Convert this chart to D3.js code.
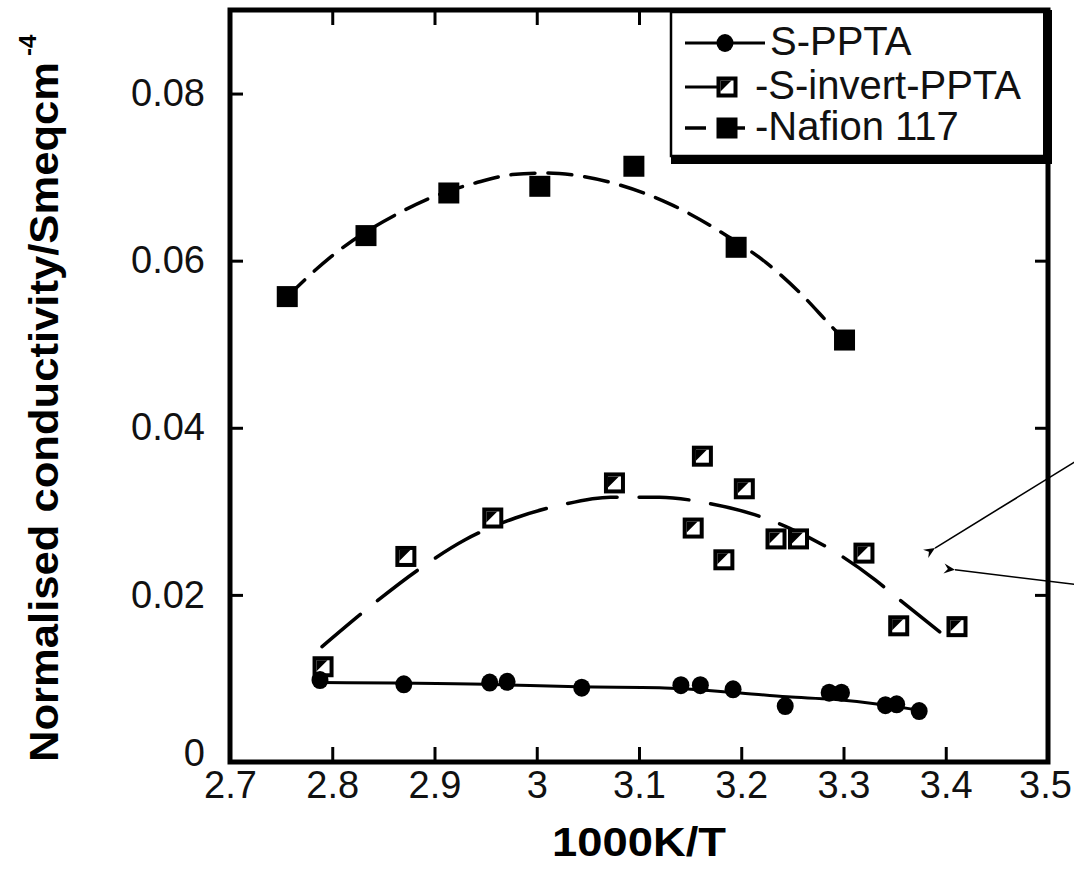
<!DOCTYPE html>
<html>
<head>
<meta charset="utf-8">
<script src="https://cdn.jsdelivr.net/npm/d3@7"></script>
<style>
body { margin: 0; background: #fff; }
svg { display: block; font-family: Arial, "Liberation Sans", Helvetica, sans-serif; }
</style>
</head>
<body>
<script>
// ---- values ----
var xTicks = [2.7, 2.8, 2.9, 3.0, 3.1, 3.2, 3.3, 3.4, 3.5];
var xTickLabels = ["2.7", "2.8", "2.9", "3", "3.1", "3.2", "3.3", "3.4", "3.5"];
var yTicks = [0, 0.02, 0.04, 0.06, 0.08];
var yTickLabels = ["0", "0.02", "0.04", "0.06", "0.08"];

var seriesNames = ["S-PPTA", "-S-invert-PPTA", "-Nafion 117"];

// S-PPTA (filled circles)
var sPptaX = [2.788, 2.870, 2.954, 2.971, 3.044, 3.141, 3.160, 3.192, 3.243, 3.286, 3.298, 3.341, 3.352, 3.374];
var sPptaY = [0.0098, 0.0093, 0.0095, 0.0096, 0.0089, 0.0092, 0.0092, 0.0087, 0.0067, 0.0083, 0.0083, 0.0068, 0.0069, 0.0061];
// fitted line through S-PPTA
var sPptaFitX = [2.788, 2.950, 3.040, 3.120, 3.195, 3.245, 3.290, 3.342, 3.374];
var sPptaFitY = [0.0095, 0.0093, 0.0090, 0.0089, 0.0083, 0.0078, 0.0075, 0.0068, 0.0062];

// S-invert-PPTA (open squares)
var sInvX = [2.791, 2.872, 2.957, 3.076, 3.153, 3.162, 3.183, 3.203, 3.234, 3.256, 3.320, 3.354, 3.411];
var sInvY = [0.0114, 0.0246, 0.0292, 0.0334, 0.0280, 0.0366, 0.0242, 0.0327, 0.0267, 0.0267, 0.0250, 0.0163, 0.0162];
var sInvFitX = [2.790, 2.839, 2.884, 2.930, 2.979, 3.025, 3.072, 3.120, 3.166, 3.213, 3.247, 3.284, 3.331, 3.353, 3.401];
var sInvFitY = [0.0138, 0.0188, 0.0230, 0.0266, 0.0292, 0.0308, 0.0317, 0.0317, 0.0310, 0.0296, 0.0280, 0.0257, 0.0218, 0.0196, 0.0149];

// Nafion 117 (filled squares)
var nafX = [2.756, 2.833, 2.914, 3.003, 3.095, 3.195, 3.301];
var nafY = [0.0557, 0.0630, 0.0681, 0.0689, 0.0713, 0.0616, 0.0505];
var nafFitX = [2.756, 2.798, 2.870, 2.900, 2.940, 2.976, 3.010, 3.044, 3.080, 3.130, 3.187, 3.224, 3.257, 3.287, 3.301];
var nafFitY = [0.0557, 0.0604, 0.0660, 0.0677, 0.0693, 0.0703, 0.0705, 0.0701, 0.0691, 0.0668, 0.0629, 0.0598, 0.0562, 0.0523, 0.0505];

// two annotation arrows coming in from the right (tip first)
var arrowTipX = [3.3895, 3.409];
var arrowTipY = [0.0256, 0.0230];
var arrowTailX = [3.530, 3.530];
var arrowTailY = [0.0362, 0.0212];

// ---- drawing ----
var width = 1074,
    height = 885;

var x = d3.scaleLinear().domain([2.7, 3.5]).range([230, 1048]);
var y = d3.scaleLinear().domain([0, 0.09]).range([762, 10]);

var svg = d3.select("body")
    .append("svg")
    .attr("width", width)
    .attr("height", height);

var zip = function(xs, ys){ return xs.map(function(v, i){ return [v, ys[i]]; }); };

var fitLine = d3.line()
    .x(function(d){ return x(d[0]); })
    .y(function(d){ return y(d[1]); })
    .curve(d3.curveMonotoneX);

// axes (ticks inward)
var xAxis = svg.append("g")
    .attr("transform", "translate(0," + y(0) + ")")
    .call(d3.axisBottom(x).tickValues(xTicks).tickSize(-15).tickPadding(9)
        .tickFormat(function(d, i){ return xTickLabels[i]; }));

var yAxis = svg.append("g")
    .attr("transform", "translate(" + x(2.7) + ",0)")
    .call(d3.axisLeft(y).tickValues(yTicks).tickSize(-13).tickPadding(25)
        .tickFormat(function(d, i){ return yTickLabels[i]; }));

// mirror ticks on top and right
svg.append("g")
    .attr("transform", "translate(0," + y(0.09) + ")")
    .call(d3.axisTop(x).tickValues(xTicks).tickSize(-15).tickFormat(""));
svg.append("g")
    .attr("transform", "translate(" + x(3.5) + ",0)")
    .call(d3.axisRight(y).tickValues(yTicks).tickSize(-13).tickFormat(""));

svg.selectAll(".domain").remove();
svg.selectAll(".tick line").attr("stroke", "#000").attr("stroke-width", 3);
svg.selectAll(".tick text").attr("fill", "#111").attr("font-size", 38);
// the "0" sits a bit higher so it clears 2.7
yAxis.selectAll(".tick text").filter(function(d){ return d === 0; }).attr("dy", "0.1em");
// last x label is pulled in so it stays on the page
xAxis.selectAll(".tick text").filter(function(d){ return d === 3.5; }).attr("dx", -3);

// frame
svg.append("rect")
    .attr("x", x(2.7)).attr("y", y(0.09))
    .attr("width", x(3.5) - x(2.7)).attr("height", y(0) - y(0.09))
    .attr("fill", "none").attr("stroke", "#000").attr("stroke-width", 5);

// fitted curves
svg.append("path")
    .attr("d", fitLine(zip(nafFitX, nafFitY)))
    .attr("fill", "none").attr("stroke", "#000").attr("stroke-width", 3.5)
    .attr("stroke-dasharray", "24,13").attr("stroke-linecap", "round");

svg.append("path")
    .attr("d", fitLine(zip(sInvFitX, sInvFitY)))
    .attr("fill", "none").attr("stroke", "#000").attr("stroke-width", 3.5)
    .attr("stroke-dasharray", "50,22").attr("stroke-linecap", "round");

svg.append("path")
    .attr("d", fitLine(zip(sPptaFitX, sPptaFitY)))
    .attr("fill", "none").attr("stroke", "#000").attr("stroke-width", 3);

// markers
function filledSquare(g, cx, cy){
    g.append("rect").attr("x", cx - 10.5).attr("y", cy - 10.5)
        .attr("width", 21).attr("height", 21).attr("fill", "#000");
}
function openSquare(g, cx, cy){
    g.append("rect").attr("x", cx - 8.5).attr("y", cy - 8.5)
        .attr("width", 17).attr("height", 17)
        .attr("fill", "#fff").attr("stroke", "#000").attr("stroke-width", 4);
    g.append("path")
        .attr("d", "M" + (cx - 6.5) + "," + (cy - 6.5) + "h11l-11,11z")
        .attr("fill", "#000");
}
function dot(g, cx, cy){
    g.append("ellipse").attr("cx", cx).attr("cy", cy)
        .attr("rx", 8.5).attr("ry", 9).attr("fill", "#000");
}

var marks = svg.append("g");
zip(nafX, nafY).forEach(function(d){ filledSquare(marks, x(d[0]), y(d[1])); });
zip(sInvX, sInvY).forEach(function(d){ openSquare(marks, x(d[0]), y(d[1])); });
zip(sPptaX, sPptaY).forEach(function(d){ dot(marks, x(d[0]), y(d[1])); });

// arrows
svg.append("defs").append("marker")
    .attr("id", "head")
    .attr("viewBox", "0 0 10 10")
    .attr("refX", 0).attr("refY", 5)
    .attr("markerWidth", 17).attr("markerHeight", 11)
    .attr("markerUnits", "userSpaceOnUse")
    .attr("orient", "auto-start-reverse")
    .append("path").attr("d", "M0,5L10,0.5L6.5,5L10,9.5z").attr("fill", "#000");

arrowTipX.forEach(function(v, i){
    svg.append("line")
        .attr("x1", x(v)).attr("y1", y(arrowTipY[i]))
        .attr("x2", x(arrowTailX[i])).attr("y2", y(arrowTailY[i]))
        .attr("stroke", "#000").attr("stroke-width", 1.6)
        .attr("marker-start", "url(#head)");
});

// legend
var lg = svg.append("g");
lg.append("rect").attr("x", 671).attr("y", 12).attr("width", 374).attr("height", 144)
    .attr("fill", "#fff").attr("stroke", "#000").attr("stroke-width", 2.5);
lg.append("rect").attr("x", 671).attr("y", 155).attr("width", 381).attr("height", 9).attr("fill", "#000");
lg.append("rect").attr("x", 1043).attr("y", 10).attr("width", 9).attr("height", 154).attr("fill", "#000");

var rowY = [43, 87, 128];
var textY = [55, 99, 140];
var textX = [770, 755, 755];

lg.append("line").attr("x1", 685).attr("x2", 765).attr("y1", rowY[0]).attr("y2", rowY[0])
    .attr("stroke", "#000").attr("stroke-width", 3);
dot(lg, 725, rowY[0]);

lg.append("line").attr("x1", 685).attr("x2", 718).attr("y1", rowY[1]).attr("y2", rowY[1])
    .attr("stroke", "#000").attr("stroke-width", 3);
openSquare(lg, 727, rowY[1]);

lg.append("line").attr("x1", 685).attr("x2", 706).attr("y1", rowY[2]).attr("y2", rowY[2])
    .attr("stroke", "#000").attr("stroke-width", 3.5);
lg.append("line").attr("x1", 735).attr("x2", 745).attr("y1", rowY[2]).attr("y2", rowY[2])
    .attr("stroke", "#000").attr("stroke-width", 3.5);
filledSquare(lg, 727, rowY[2]);

seriesNames.forEach(function(name, i){
    lg.append("text").attr("x", textX[i]).attr("y", textY[i])
        .attr("font-size", 40).attr("fill", "#111").text(name);
});

// axis titles
svg.append("text")
    .attr("x", x(3.1)).attr("y", 856)
    .attr("text-anchor", "middle")
    .attr("font-size", 40).attr("font-weight", "bold")
    .attr("textLength", 174).attr("lengthAdjust", "spacingAndGlyphs")
    .text("1000K/T");

svg.append("text")
    .attr("transform", "translate(58,762) rotate(-90)")
    .attr("font-size", 40).attr("font-weight", "bold")
    .attr("textLength", 700).attr("lengthAdjust", "spacingAndGlyphs")
    .text("Normalised conductivity/Smeqcm");
svg.append("text")
    .attr("transform", "translate(36,56) rotate(-90)")
    .attr("font-size", 24).attr("font-weight", "bold")
    .text("-4");
</script>
</body>
</html>
